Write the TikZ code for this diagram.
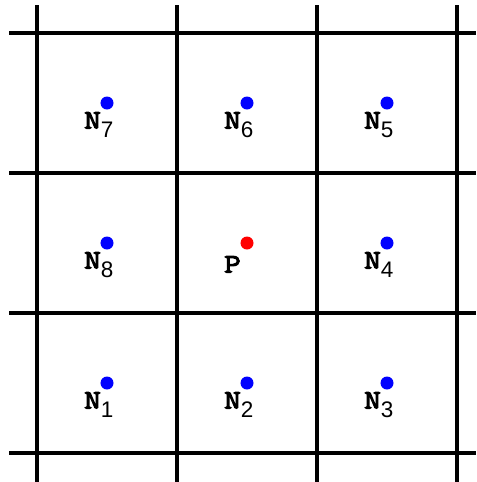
\documentclass[tikz,border=0pt]{standalone}
\usepackage{fontspec}
\setsansfont{Liberation Sans}
\newfontfamily\labfont{Latin Modern Mono}[FakeBold=4, FakeStretch=1.2]
\usetikzlibrary{positioning}

% label of a node: bold N with a sans subscript
\newcommand{\nlab}[1]{N\raisebox{-6.5pt}{\sffamily\fontsize{16}{16}\selectfont #1}}

\begin{document}
\begin{tikzpicture}[
  x=0.025cm, y=-0.025cm,
  gridline/.style={line width=2.3pt, black},
  pt/.style={circle, inner sep=0pt, minimum size=0.325cm, fill=blue},
  ptc/.style={pt, fill=red},
  lab/.style={font=\labfont\fontsize{19}{19}\selectfont, inner sep=0pt, anchor=base west},
]
  \useasboundingbox (0,0) rectangle (476,482);

  % grid
  \foreach \k in {37,177,317,457}
    \draw[gridline] (\k,5) -- (\k,482);
  \foreach \k in {33,173,313,453}
    \draw[gridline] (9,\k) -- (476,\k);

  % points
  \node[pt]  (n7) at (107,103) {};
  \node[pt]  (n6) at (247,103) {};
  \node[pt]  (n5) at (387,103) {};
  \node[pt]  (n8) at (107,243) {};
  \node[ptc] (p)  at (247,243) {};
  \node[pt]  (n4) at (387,243) {};
  \node[pt]  (n1) at (107,383) {};
  \node[pt]  (n2) at (247,383) {};
  \node[pt]  (n3) at (387,383) {};

  % labels
  \foreach \n in {1,...,8}
    \node[lab] (l\n) at ([shift={(-23,25.5)}]n\n.center) {\nlab{\n}};
  \node[lab] (lp) at ([shift={(-23,29.5)}]p.center) {P};
\end{tikzpicture}
\end{document}
